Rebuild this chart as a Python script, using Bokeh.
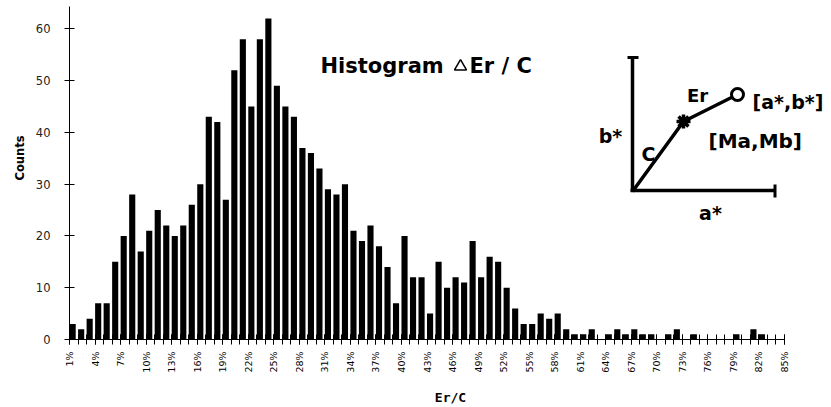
from bokeh.plotting import figure
from bokeh.models import Range1d, FixedTicker, Label, ColumnDataSource, Title
from bokeh.embed import file_html
from bokeh.resources import INLINE
import math

# ---------------- data ----------------
bins = list(range(1, 86))  # Er/C in percent
counts = [3, 2, 4, 7, 7, 15, 20, 28, 17, 21,
          25, 22, 20, 22, 26, 30, 43, 42, 27, 52,
          58, 45, 58, 62, 49, 45, 43, 37, 36, 33,
          29, 28, 30, 21, 19, 22, 18, 14, 7, 20,
          12, 12, 5, 15, 10, 12, 11, 19, 12, 16,
          15, 10, 6, 3, 3, 5, 4, 5, 2, 1,
          1, 2, 0, 1, 2, 1, 2, 1, 1, 0,
          1, 2, 0, 1, 0, 0, 0, 0, 1, 0,
          2, 1, 0, 0, 0]
x_tick_values = list(range(1, 86, 3))
x_tick_labels = [f"{v}%" for v in x_tick_values]
y_tick_values = [0, 10, 20, 30, 40, 50, 60]

# ---------------- layout ----------------
W, H = 831, 407
FR_LEFT, AX_RIGHT, FR_TOP, FR_BOTTOM = 69, 784, 6, 339
X0, XA1 = 0.99, 85.01          # axis extent in data units
SX = (AX_RIGHT - FR_LEFT) / (XA1 - X0)
X1 = X0 + (W - FR_LEFT) / SX   # frame runs to the right edge
Y0, Y1 = 0.0, 64.3
BAR_W = 0.72
FONT = "DejaVu Sans"


def dx(px):
    return X0 + (px - FR_LEFT) / SX


def dy(py):
    return Y0 + (FR_BOTTOM - py) * (Y1 - Y0) / (FR_BOTTOM - FR_TOP)


p = figure(width=W, height=H, output_backend="svg", toolbar_location=None,
           x_range=Range1d(X0, X1), y_range=Range1d(Y0, Y1),
           min_border_left=FR_LEFT, min_border_right=0,
           min_border_top=FR_TOP, min_border_bottom=H - FR_BOTTOM)
p.outline_line_color = None
p.xgrid.visible = False
p.ygrid.visible = False
p.background_fill_color = "white"
p.border_fill_color = "white"

src = ColumnDataSource(dict(x=[b + BAR_W / 2 for b in bins], top=counts))
p.vbar(x="x", top="top", bottom=0, width=BAR_W, source=src,
       fill_color="black", line_color=None)

# x axis
xa = p.xaxis[0]
xa.bounds = (X0, XA1)
xa.ticker = FixedTicker(ticks=x_tick_values, minor_ticks=bins)
xa.major_label_overrides = {v: lab for v, lab in zip(x_tick_values, x_tick_labels)}
xa.major_label_orientation = math.pi / 2
xa.major_tick_in = 5
xa.major_tick_out = 5
xa.minor_tick_in = 5
xa.minor_tick_out = 5
xa.major_label_standoff = 7
xa.major_label_text_font = FONT
xa.major_label_text_font_size = "9.5px"
xa.major_label_text_color = "black"
xa.axis_line_color = "black"
xa.major_tick_line_color = "black"
xa.minor_tick_line_color = "black"
xa.axis_label = "Er/C"
xa.axis_label_text_font = "DejaVu Sans Mono"
xa.axis_label_text_font_style = "bold"
xa.axis_label_text_font_size = "13px"
xa.axis_label_text_color = "black"
xa.axis_label_standoff = 14

# y axis
ya = p.yaxis[0]
ya.ticker = FixedTicker(ticks=y_tick_values, minor_ticks=[])
ya.major_tick_in = 5
ya.major_tick_out = 5
ya.minor_tick_in = 0
ya.minor_tick_out = 0
ya.major_label_standoff = 14
ya.major_label_text_font = FONT
ya.major_label_text_font_size = "11.5px"
ya.major_label_text_color = "#222222"
ya.axis_line_color = "black"
ya.major_tick_line_color = "black"

# y-axis title, shifted up like the original
p.add_layout(Title(text="Counts", align="left", offset=159, standoff=12,
                   text_font=FONT, text_font_style="bold", text_font_size="11.5px",
                   text_color="black"), "left")

# title
TITLE_KW = dict(text_baseline="alphabetic", text_font=FONT, text_font_style="bold",
                text_font_size="21px", text_color="black")
p.add_layout(Label(x=dx(320), y=dy(65), text="Histogram", text_align="left", **TITLE_KW))
p.add_layout(Label(x=dx(469), y=dy(65), text="Er / C", text_align="left", **TITLE_KW))
p.scatter(x=[dx(460)], y=[dy(66)], marker="triangle", size=12,
          fill_color=None, line_color="black", line_width=1.5)

# inset diagram (a*, b* plane)
LW = 3.5
O = (632, 191)
STAR = (683, 121)
CIRC = (737, 94)
p.line(x=[dx(632), dx(632)], y=[dy(191), dy(56)], line_width=LW, line_color="black")
p.line(x=[dx(627), dx(638)], y=[dy(57), dy(57)], line_width=3, line_color="black")
p.line(x=[dx(630), dx(775)], y=[dy(190), dy(190)], line_width=LW, line_color="black")
p.line(x=[dx(774.5), dx(774.5)], y=[dy(184), dy(197)], line_width=3, line_color="black")
p.line(x=[dx(O[0]), dx(STAR[0]), dx(CIRC[0])], y=[dy(O[1]), dy(STAR[1]), dy(CIRC[1])],
       line_width=LW, line_color="black", line_join="round")
p.scatter(x=[dx(STAR[0])], y=[dy(STAR[1])], marker="asterisk", size=14,
          line_color="black", line_width=3.5)
p.scatter(x=[dx(CIRC[0])], y=[dy(CIRC[1])], marker="circle", size=12,
          fill_color="white", line_color="black", line_width=3)


def lab(px, py, text, size="19px", align="left"):
    p.add_layout(Label(x=dx(px), y=dy(py), text=text, text_align=align,
                       text_baseline="alphabetic", text_font=FONT,
                       text_font_style="bold", text_font_size=size, text_color="black"))


lab(697, 95, "Er", "18px", "center")
lab(752, 101, "[a*,b*]", "19px")
lab(708, 140, "[Ma,Mb]", "20px")
lab(610, 135, "b*", "19px", "center")
lab(710, 212, "a*", "19px", "center")
lab(648, 153, "C", "19px", "center")

open("out.html", "w").write(file_html(p, INLINE))
